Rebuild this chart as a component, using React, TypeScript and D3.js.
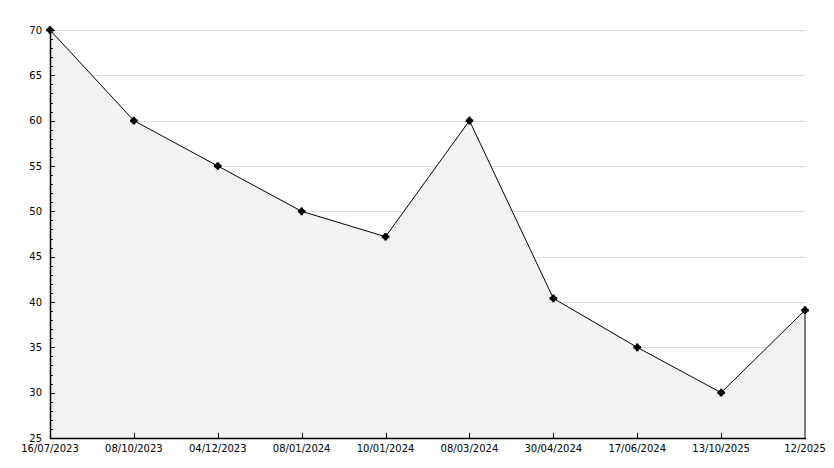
import React from "react";
import * as d3 from "d3";

const categories = ["16/07/2023", "08/10/2023", "04/12/2023", "08/01/2024", "10/01/2024", "08/03/2024", "30/04/2024", "17/06/2024", "13/10/2025", "12/2025"];
const values = [70, 60, 55, 50, 47.2, 60, 40.4, 35, 30, 39.1];
const yMajorTicks = [25, 30, 35, 40, 45, 50, 55, 60, 65, 70];

const W = 834, H = 468;
const left = 50, right = 805, top = 30, bottom = 438;

export default function App() {
  const x = d3.scalePoint<string>().domain(categories).range([left, right]);
  const y = d3.scaleLinear().domain([25, 70]).range([bottom, top]);
  const pts: [number, number][] = values.map((v, i) => [x(categories[i])!, y(v)]);
  const area = d3.area<[number, number]>().x(d => d[0]).y0(bottom).y1(d => d[1])(pts)!;
  const line = d3.line<[number, number]>().x(d => d[0]).y(d => d[1])(pts)!;
  const minor = d3.range(25, 71, 1).filter(v => v % 5 !== 0);
  const font = "'DejaVu Sans', Verdana, sans-serif";
  const last = pts[pts.length - 1];
  const crisp = (v: number) => Math.round(v) + 0.5;
  return (
    <svg width={W} height={H} style={{ position: "absolute", left: 0, top: 0, background: "#fff" }}>
      {yMajorTicks.filter(v => v !== 25).map(v => (
        <line key={"g" + v} x1={left} x2={right} y1={crisp(y(v))} y2={crisp(y(v))} stroke="#dcdcdc" strokeWidth={1} />
      ))}
      <path d={area} fill="#f2f2f2" />
      <path d={line} fill="none" stroke="#000" strokeWidth={1} />
      <line x1={last[0]} x2={last[0]} y1={last[1]} y2={bottom} stroke="#000" strokeWidth={1} />
      <line x1={crisp(left)} x2={crisp(left)} y1={top} y2={bottom + 1} stroke="#000" strokeWidth={1.5} />
      <line x1={left} x2={right + 1} y1={crisp(bottom)} y2={crisp(bottom)} stroke="#000" strokeWidth={1.5} />
      {yMajorTicks.map(v => (
        <g key={"y" + v}>
          <line x1={left} x2={left + 5} y1={crisp(y(v))} y2={crisp(y(v))} stroke="#000" />
          <text x={42} y={y(v)} dy="0.35em" textAnchor="end" fontSize={10} fontFamily={font} fill="#000">{v}</text>
        </g>
      ))}
      {minor.map(v => (
        <line key={"m" + v} x1={left} x2={left + 3} y1={crisp(y(v))} y2={crisp(y(v))} stroke="#000" />
      ))}
      {categories.map((c, i) => (
        <g key={"x" + c}>
          {i > 0 && i < categories.length - 1 && (
            <line x1={crisp(x(c)!)} x2={crisp(x(c)!)} y1={bottom} y2={bottom - 5} stroke="#000" />
          )}
          <text x={x(c)} y={452} textAnchor="middle" fontSize={10} fontFamily={font} fill="#000">{c}</text>
        </g>
      ))}
      {pts.map((p, i) => (
        <g key={"p" + i}>
          <circle cx={p[0]} cy={p[1]} r={2.9} fill="#000" />
          <path d={d3.symbol(d3.symbolCross, 32)()!} transform={`translate(${p[0]},${p[1]})`} fill="#000" />
        </g>
      ))}
    </svg>
  );
}
